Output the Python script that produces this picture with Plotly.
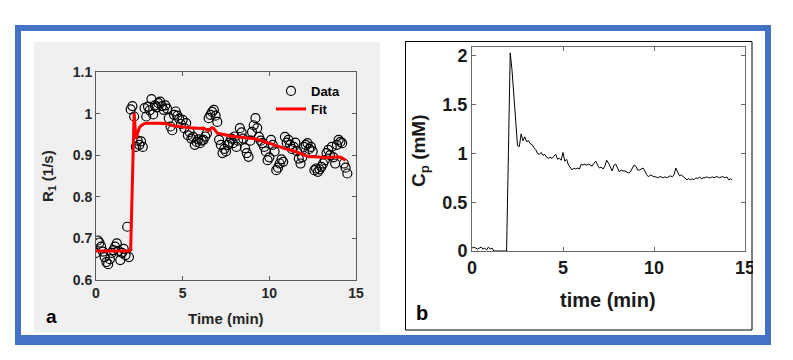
import plotly.graph_objects as go

# ---------------- data ----------------
time_min = [
    0.0, 0.1, 0.2, 0.3, 0.4, 0.5, 0.6, 0.7, 0.8, 0.9,
    1.0, 1.1, 1.2, 1.3, 1.4, 1.5, 1.6, 1.7, 1.8, 1.9,
    2.0, 2.1, 2.2, 2.3, 2.4, 2.5, 2.6, 2.7, 2.8, 2.9,
    3.0, 3.1, 3.2, 3.3, 3.4, 3.5, 3.6, 3.7, 3.8, 3.9,
    4.0, 4.1, 4.2, 4.3, 4.4, 4.5, 4.6, 4.7, 4.8, 4.9,
    5.0, 5.1, 5.2, 5.3, 5.4, 5.5, 5.6, 5.7, 5.8, 5.9,
    6.0, 6.1, 6.2, 6.3, 6.4, 6.5, 6.6, 6.7, 6.8, 6.9,
    7.0, 7.1, 7.2, 7.3, 7.4, 7.5, 7.6, 7.7, 7.8, 7.9,
    8.0, 8.1, 8.2, 8.3, 8.4, 8.5, 8.6, 8.7, 8.8, 8.9,
    9.0, 9.1, 9.2, 9.3, 9.4, 9.5, 9.6, 9.7, 9.8, 9.9,
    10.0, 10.1, 10.2, 10.3, 10.4, 10.5, 10.6, 10.7, 10.8, 10.9,
    11.0, 11.1, 11.2, 11.3, 11.4, 11.5, 11.6, 11.7, 11.8, 11.9,
    12.0, 12.1, 12.2, 12.3, 12.4, 12.5, 12.6, 12.7, 12.8, 12.9,
    13.0, 13.1, 13.2, 13.3, 13.4, 13.5, 13.6, 13.7, 13.8, 13.9,
    14.0, 14.1, 14.2, 14.3, 14.4, 14.5,
]

r1_data = [
    0.665, 0.695, 0.690, 0.680, 0.668, 0.655, 0.643, 0.638, 0.650, 0.665,
    0.672, 0.680, 0.688, 0.670, 0.648, 0.665, 0.675, 0.660, 0.728, 0.655,
    1.010, 1.018, 0.993, 0.920, 0.935, 0.925, 0.933, 0.920, 1.013, 0.993,
    1.017, 1.008, 1.035, 0.998, 1.020, 1.015, 1.025, 1.029, 1.018, 1.009,
    1.020, 1.012, 0.989, 0.969, 0.960, 0.997, 1.005, 0.995, 0.988, 0.975,
    0.985, 0.965, 0.977, 0.948, 0.956, 0.940, 0.944, 0.925, 0.932, 0.938,
    0.929, 0.935, 0.937, 0.945, 0.953, 0.989, 0.997, 1.004, 1.009, 0.995,
    0.980, 0.937, 0.925, 0.905, 0.915, 0.909, 0.925, 0.930, 0.940, 0.929,
    0.945, 0.920, 0.935, 0.965, 0.955, 0.940, 0.917, 0.905, 0.896, 0.935,
    0.956, 0.972, 0.989, 0.965, 0.944, 0.935, 0.929, 0.920, 0.909, 0.888,
    0.895, 0.937, 0.925, 0.909, 0.864, 0.870, 0.880, 0.890, 0.884, 0.944,
    0.930, 0.937, 0.925, 0.915, 0.920, 0.930, 0.910, 0.892, 0.880, 0.895,
    0.920, 0.925, 0.929, 0.915, 0.920, 0.909, 0.864, 0.868, 0.860, 0.866,
    0.872, 0.880, 0.888, 0.905, 0.913, 0.900, 0.920, 0.895, 0.880, 0.925,
    0.937, 0.932, 0.929, 0.880, 0.870, 0.856,
]

r1_fit = [
    0.670, 0.670, 0.670, 0.670, 0.670, 0.670, 0.670, 0.670, 0.670, 0.670,
    0.670, 0.670, 0.670, 0.670, 0.670, 0.670, 0.670, 0.670, 0.670, 0.670,
    0.672, 0.840, 1.002, 0.940, 0.956, 0.966, 0.971, 0.974, 0.976, 0.977,
    0.977, 0.978, 0.977, 0.978, 0.977, 0.977, 0.978, 0.977, 0.976, 0.977,
    0.976, 0.975, 0.975, 0.974, 0.972, 0.970, 0.970, 0.969, 0.970, 0.969,
    0.968, 0.968, 0.967, 0.967, 0.966, 0.966, 0.965, 0.965, 0.966, 0.965,
    0.964, 0.965, 0.965, 0.963, 0.960, 0.959, 0.963, 0.966, 0.964, 0.958,
    0.953, 0.952, 0.951, 0.950, 0.950, 0.949, 0.948, 0.947, 0.946, 0.945,
    0.945, 0.944, 0.944, 0.943, 0.943, 0.942, 0.942, 0.942, 0.941, 0.941,
    0.940, 0.940, 0.939, 0.938, 0.937, 0.936, 0.934, 0.933, 0.931, 0.930,
    0.929, 0.928, 0.926, 0.924, 0.923, 0.921, 0.920, 0.919, 0.917, 0.916,
    0.915, 0.914, 0.913, 0.912, 0.910, 0.909, 0.907, 0.906, 0.905, 0.903,
    0.901, 0.899, 0.898, 0.896, 0.896, 0.897, 0.896, 0.896, 0.895, 0.896,
    0.895, 0.895, 0.894, 0.894, 0.894, 0.894, 0.895, 0.896, 0.895, 0.896,
    0.896, 0.895, 0.893, 0.890, 0.888,
]

cp_mM = [
    0.03, 0.04, 0.03, 0.02, 0.03, 0.04, 0.02, 0.03, 0.01, 0.04,
    0.02, 0.03, 0.00, 0.00, 0.00, 0.00, 0.00, 0.00, 0.00, 0.00,
    1.00, 2.03, 1.85, 1.62, 1.35, 1.08, 1.07, 1.20, 1.13, 1.17,
    1.12, 1.13, 1.10, 1.09, 1.06, 1.04, 1.00, 0.99, 1.01, 0.98,
    0.99, 0.96, 0.95, 0.96, 0.95, 0.97, 0.99, 0.94, 0.95, 0.93,
    1.01, 0.92, 0.94, 0.88, 0.86, 0.83, 0.85, 0.84, 0.85, 0.84,
    0.89, 0.88, 0.89, 0.88, 0.89, 0.88, 0.87, 0.90, 0.92, 0.88,
    0.85, 0.86, 0.84, 0.87, 0.93, 0.90, 0.85, 0.82, 0.88, 0.89,
    0.85, 0.81, 0.83, 0.82, 0.82, 0.81, 0.80, 0.81, 0.84, 0.88,
    0.87, 0.83, 0.83, 0.84, 0.85, 0.82, 0.78, 0.76, 0.78, 0.77,
    0.76, 0.76, 0.75, 0.76, 0.76, 0.75, 0.76, 0.75, 0.76, 0.77,
    0.76, 0.78, 0.85, 0.80, 0.77, 0.78, 0.76, 0.74, 0.73, 0.74,
    0.73, 0.74, 0.73, 0.75, 0.74, 0.76, 0.74, 0.75, 0.75, 0.76,
    0.75, 0.75, 0.76, 0.75, 0.76, 0.76, 0.75, 0.76, 0.76, 0.75,
    0.76, 0.73, 0.74, 0.73,
]

x_ticks = [0, 5, 10, 15]
r1_ticks = [0.6, 0.7, 0.8, 0.9, 1.0, 1.1]
cp_ticks = [0, 0.5, 1, 1.5, 2]

# ---------------- layout helpers ----------------
W, H = 793, 360
FONT = "Liberation Sans, Arial, sans-serif"


def px(x):
    return x / W


def py(y):
    return 1 - y / H


fig = go.Figure()

fig.add_trace(go.Scatter(
    x=time_min[:len(r1_data)], y=r1_data, mode="markers", name="Data",
    marker=dict(symbol="circle-open", size=9, color="black",
                line=dict(color="black", width=1.2)),
    xaxis="x", yaxis="y", legend="legend"))
fig.add_trace(go.Scatter(
    x=time_min[:len(r1_fit)], y=r1_fit, mode="lines", name="Fit",
    line=dict(color="#ff0000", width=3),
    xaxis="x", yaxis="y", legend="legend2"))
fig.add_trace(go.Scatter(
    x=time_min[:len(cp_mM)], y=cp_mM, mode="lines", showlegend=False,
    line=dict(color="black", width=1),
    xaxis="x2", yaxis="y2"))

axis_a = dict(showline=True, linecolor="#5a5a5a", linewidth=1, mirror="ticks",
              ticks="inside", ticklen=4, tickcolor="#5a5a5a", showgrid=False,
              zeroline=False, automargin=False,
              tickfont=dict(family=FONT, size=14, color="#262626", weight="bold"))
axis_b = dict(showline=True, linecolor="#6a6a6a", linewidth=1, mirror="ticks",
              ticks="inside", ticklen=4, tickcolor="#6a6a6a", showgrid=False,
              zeroline=False, automargin=False,
              tickfont=dict(family=FONT, size=18, color="#1a1a1a", weight="bold"))

legend_common = dict(xanchor="left", yanchor="middle", bgcolor="rgba(0,0,0,0)",
                     borderwidth=0, tracegroupgap=0,
                     font=dict(family=FONT, size=13, color="black", weight="bold"))

fig.update_layout(
    template="none",
    width=W, height=H, margin=dict(l=0, r=0, t=0, b=0, pad=0, autoexpand=False),
    paper_bgcolor="white", plot_bgcolor="white",
    xaxis=dict(axis_a, domain=[px(96), px(356)], range=[0, 15], tickvals=x_ticks,
               anchor="y"),
    yaxis=dict(axis_a, domain=[py(280), py(72)], range=[0.6, 1.1], tickvals=r1_ticks,
               anchor="x"),
    xaxis2=dict(axis_b, domain=[px(472), px(745)], range=[0, 15], tickvals=x_ticks,
                anchor="y2"),
    yaxis2=dict(axis_b, domain=[py(251), py(47)], range=[0, 2.09], tickvals=cp_ticks,
                anchor="x2"),
    showlegend=True,
    legend=dict(legend_common, x=px(271), y=py(91)),
    legend2=dict(legend_common, x=px(271), y=py(109)),
)

shapes = [
    dict(type="rect", xref="paper", yref="paper", x0=px(15), x1=px(771), y0=py(345), y1=py(25),
         fillcolor="#4472C4", line=dict(width=0), layer="below"),
    dict(type="rect", xref="paper", yref="paper", x0=px(21), x1=px(765), y0=py(335), y1=py(31),
         fillcolor="white", line=dict(width=0), layer="below"),
    dict(type="rect", xref="paper", yref="paper", x0=px(34), x1=px(380), y0=py(332), y1=py(42),
         fillcolor="#f0f0f0", line=dict(width=0), layer="below"),
    dict(type="rect", xref="paper", yref="paper", x0=px(405.5), x1=px(752), y0=py(330), y1=py(41.5),
         fillcolor="white", line=dict(color="black", width=1), layer="below"),
    dict(type="rect", xref="paper", yref="paper", x0=px(753), x1=px(764), y0=py(290), y1=py(255),
         fillcolor="white", line=dict(width=0), layer="above"),
]
fig.update_layout(shapes=shapes)

annotations = [
    dict(text="Time (min)", x=px(226), y=py(318), xref="paper", yref="paper",
         showarrow=False, xanchor="center", yanchor="middle",
         font=dict(family=FONT, size=15, color="#262626", weight="bold")),
    dict(text="R<sub>1</sub> (1/s)", x=px(48), y=py(176), xref="paper", yref="paper",
         showarrow=False, xanchor="center", yanchor="middle", textangle=-90,
         font=dict(family=FONT, size=15, color="#262626", weight="bold")),
    dict(text="a", x=px(51), y=py(316), xref="paper", yref="paper",
         showarrow=False, xanchor="center", yanchor="middle",
         font=dict(family=FONT, size=19, color="black", weight="bold")),
    dict(text="time (min)", x=px(608), y=py(300), xref="paper", yref="paper",
         showarrow=False, xanchor="center", yanchor="middle",
         font=dict(family=FONT, size=20, color="#1a1a1a", weight="bold")),
    dict(text="C<sub>p</sub> (mM)", x=px(420), y=py(150), xref="paper", yref="paper",
         showarrow=False, xanchor="center", yanchor="middle", textangle=-90,
         font=dict(family=FONT, size=19, color="#1a1a1a", weight="bold")),
    dict(text="b", x=px(422), y=py(313), xref="paper", yref="paper",
         showarrow=False, xanchor="center", yanchor="middle",
         font=dict(family=FONT, size=20, color="black", weight="bold")),
]
fig.update_layout(annotations=annotations)

fig.write_html("out.html",
               config={"displayModeBar": False},
               post_script="document.body.style.margin='0';document.body.style.overflow='hidden';")
